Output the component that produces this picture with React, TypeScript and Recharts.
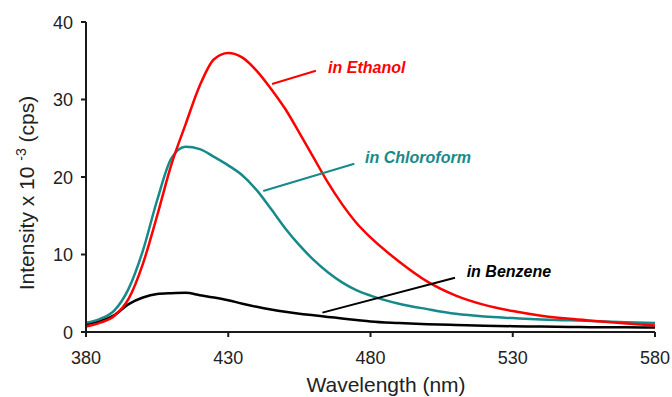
import React from 'react';
import { LineChart, Line, XAxis, YAxis, ReferenceLine, ReferenceDot } from 'recharts';

const wavelengths = [380, 385, 390, 395, 400, 405, 410, 415, 420, 425, 430, 435, 440, 445, 450, 455, 460, 465, 470, 475, 480, 490, 500, 510, 520, 530, 540, 550, 560, 570, 580];
const ethanol = [0.7, 1.2, 2.1, 4.3, 8.8, 15.0, 21.6, 26.8, 31.8, 35.2, 36.0, 35.4, 33.7, 31.4, 28.8, 25.7, 22.5, 19.3, 16.5, 14.1, 12.2, 9.1, 6.5, 4.7, 3.5, 2.7, 2.1, 1.7, 1.4, 1.1, 0.85];
const chloroform = [1.2, 1.7, 2.8, 5.6, 10.5, 17.0, 22.4, 23.9, 23.6, 22.6, 21.5, 20.2, 18.3, 15.9, 13.4, 11.2, 9.3, 7.7, 6.4, 5.4, 4.7, 3.65, 2.95, 2.35, 2.0, 1.8, 1.62, 1.5, 1.38, 1.25, 1.15];
const benzene = [1.0, 1.4, 2.2, 3.6, 4.45, 4.9, 5.0, 5.05, 4.75, 4.45, 4.1, 3.65, 3.25, 2.9, 2.6, 2.35, 2.15, 1.95, 1.75, 1.55, 1.35, 1.15, 1.0, 0.9, 0.8, 0.75, 0.7, 0.65, 0.6, 0.6, 0.58];

const xTicks = [380, 430, 480, 530, 580];
const yTicks = [0, 10, 20, 30, 40];

const annotations = [
  { label: 'in Ethanol', color: '#ff0000', from: [445.4, 32.0], to: [460.8, 33.7], text: [465.1, 34.1] },
  { label: 'in Chloroform', color: '#168a8a', from: [442.3, 18.2], to: [474.3, 21.7], text: [478.1, 22.5] },
  { label: 'in Benzene', color: '#000000', from: [463.1, 2.5], to: [509.7, 7.0], text: [513.8, 7.8] },
];

const data = wavelengths.map((w, i) => ({ w, ethanol: ethanol[i], chloroform: chloroform[i], benzene: benzene[i] }));

const FONT = "Arial, 'Liberation Sans', sans-serif";

const XTick = (props: any) => {
  const { x, y, payload } = props;
  return (
    <text x={x} y={y} dy={23} textAnchor="middle" fontFamily={FONT} fontSize={18} fill="#222">
      {payload.value}
    </text>
  );
};

const YTick = (props: any) => {
  const { x, y, payload } = props;
  return (
    <text x={x} y={y} dy={6.5} textAnchor="end" fontFamily={FONT} fontSize={18} fill="#222">
      {payload.value}
    </text>
  );
};

export default function App() {
  return (
    <div style={{ position: 'absolute', left: 0, top: 0, width: 672, height: 397, background: '#fff' }}>
      <LineChart width={672} height={397} data={data} margin={{ top: 22, right: 17, bottom: 25, left: 26 }}>
        <XAxis
          dataKey="w"
          type="number"
          domain={[380, 580]}
          ticks={xTicks}
          tickSize={5}
          tickMargin={4}
          height={40}
          stroke="#1a1a1a"
          strokeWidth={2}
          tick={<XTick />}
          label={{
            content: () => (
              <text x={386} y={392} textAnchor="middle" fontFamily={FONT} fontSize={21} fill="#222">
                Wavelength (nm)
              </text>
            ),
          }}
        />
        <YAxis
          type="number"
          domain={[0, 40]}
          ticks={yTicks}
          tickSize={5}
          tickMargin={8}
          width={60}
          stroke="#1a1a1a"
          strokeWidth={2}
          tick={<YTick />}
          label={{
            content: () => (
              <text transform="translate(34,193) rotate(-90)" textAnchor="middle" fontFamily={FONT} fontSize={21} fill="#222">
                <tspan>Intensity x 10 </tspan>
                <tspan dy={-8} fontSize={14}>-3</tspan>
                <tspan dy={8}> (cps)</tspan>
              </text>
            ),
          }}
        />
        <Line type="monotone" dataKey="benzene" stroke="#000000" strokeWidth={2.5} dot={false} isAnimationActive={false} />
        <Line type="monotone" dataKey="chloroform" stroke="#168a8a" strokeWidth={2.5} dot={false} isAnimationActive={false} />
        <Line type="monotone" dataKey="ethanol" stroke="#ff0000" strokeWidth={2.5} dot={false} isAnimationActive={false} />
        {annotations.map((a) => (
          <ReferenceLine
            key={a.label + '-line'}
            segment={[{ x: a.from[0], y: a.from[1] }, { x: a.to[0], y: a.to[1] }]}
            stroke={a.color}
            strokeWidth={2}
          />
        ))}
        {annotations.map((a) => (
          <ReferenceDot
            key={a.label + '-text'}
            x={a.text[0]}
            y={a.text[1]}
            r={0}
            shape={(p: any) => (
              <text x={p.cx} y={p.cy} dy={5.5} textAnchor="start" fontFamily={FONT} fontSize={16} fontWeight="bold" fontStyle="italic" fill={a.color}>
                {a.label}
              </text>
            )}
          />
        ))}
      </LineChart>
    </div>
  );
}
